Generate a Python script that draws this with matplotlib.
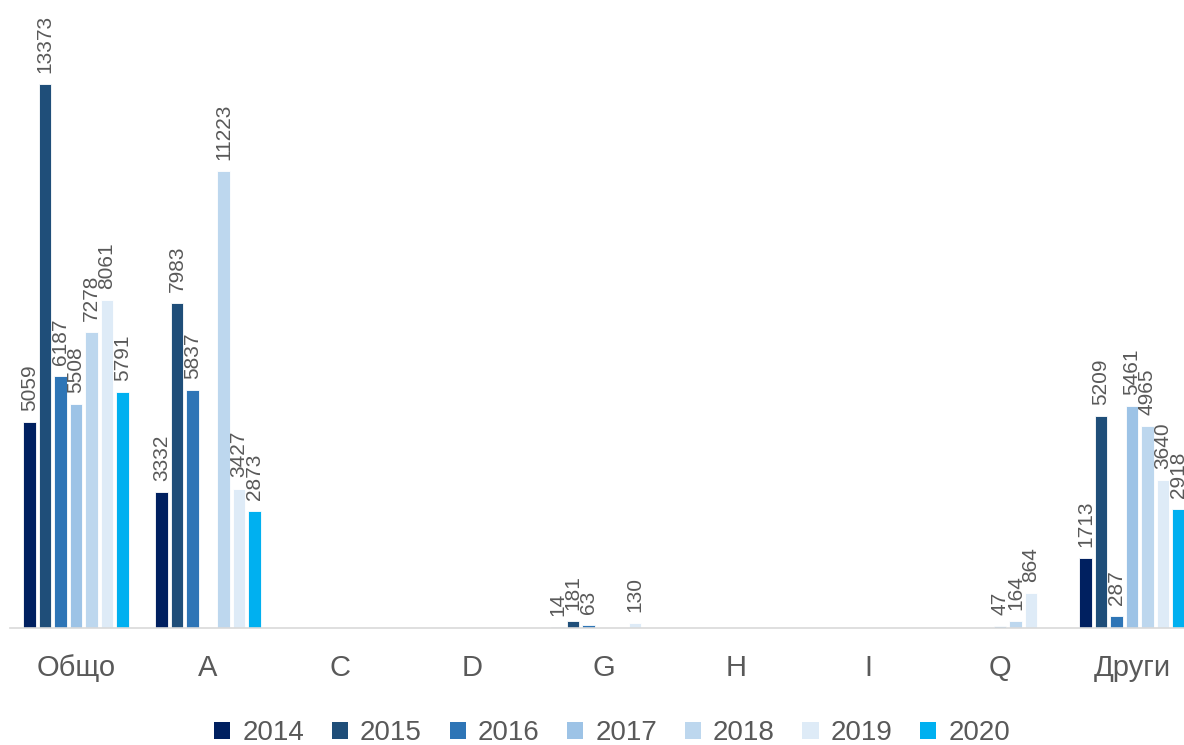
import numpy as np
import matplotlib
matplotlib.use("Agg")
import matplotlib.pyplot as plt
from matplotlib.patches import Patch

plt.rcParams['font.family'] = ['Liberation Sans', 'DejaVu Sans']

# categories and yearly values (nan = no bar)
categories = ['Общо', 'A', 'C', 'D', 'G', 'H', 'I', 'Q', 'Други']
years = ['2014', '2015', '2016', '2017', '2018', '2019', '2020']
nan = np.nan
v2014 = [5059, 3332, nan, nan, 14, nan, nan, nan, 1713]
v2015 = [13373, 7983, nan, nan, 181, nan, nan, nan, 5209]
v2016 = [6187, 5837, nan, nan, 63, nan, nan, nan, 287]
v2017 = [5508, nan, nan, nan, nan, nan, nan, 47, 5461]
v2018 = [7278, 11223, nan, nan, nan, nan, nan, 164, 4965]
v2019 = [8061, 3427, nan, nan, 130, nan, nan, 864, 3640]
v2020 = [5791, 2873, nan, nan, nan, nan, nan, nan, 2918]
series = [v2014, v2015, v2016, v2017, v2018, v2019, v2020]
colors = ['#002060', '#1F4E79', '#2E75B6', '#9DC3E6', '#BDD7EE', '#DEEBF7', '#00B0F0']

txt = '#595959'

fig = plt.figure(figsize=(11.84, 7.45), dpi=100)
ax = fig.add_axes([10/1184, 117/745, 1188/1184, 590/745])

x = np.arange(len(categories))
step = 0.1174
w = 0.097
for i, (vals, c) in enumerate(zip(series, colors)):
    vals = np.array(vals, dtype=float)
    pos = x + (i - 3) * step
    ax.bar(pos, np.nan_to_num(vals), width=w, color=c, edgecolor='white', linewidth=0.6)
    for p, v in zip(pos, vals):
        if not np.isnan(v):
            ax.annotate(f'{int(v)}', (p, v), xytext=(0, 8), textcoords='offset points',
                        rotation=90, ha='center', va='bottom', fontsize=15, color=txt)

ax.set_xlim(-0.5, len(categories) - 0.5)
ax.set_ylim(0, 14500)
ax.set_xticks(x)
ax.set_xticklabels(categories, fontsize=21, color=txt)
ax.tick_params(axis='x', length=0, pad=19)
ax.set_yticks([])
for s in ['top', 'right', 'left']:
    ax.spines[s].set_visible(False)
ax.spines['bottom'].set_color('#D9D9D9')
ax.spines['bottom'].set_linewidth(1.2)

handles = [Patch(facecolor=c, edgecolor='none') for c in colors]
fig.legend(handles, years, loc='center', bbox_to_anchor=(612/1184, 1 - 733/745), ncol=7,
           frameon=False, fontsize=20, labelcolor=txt, handlelength=0.58, handleheight=0.58,
           handletextpad=0.43, columnspacing=1.0)

fig.savefig('out.png', dpi=100)
